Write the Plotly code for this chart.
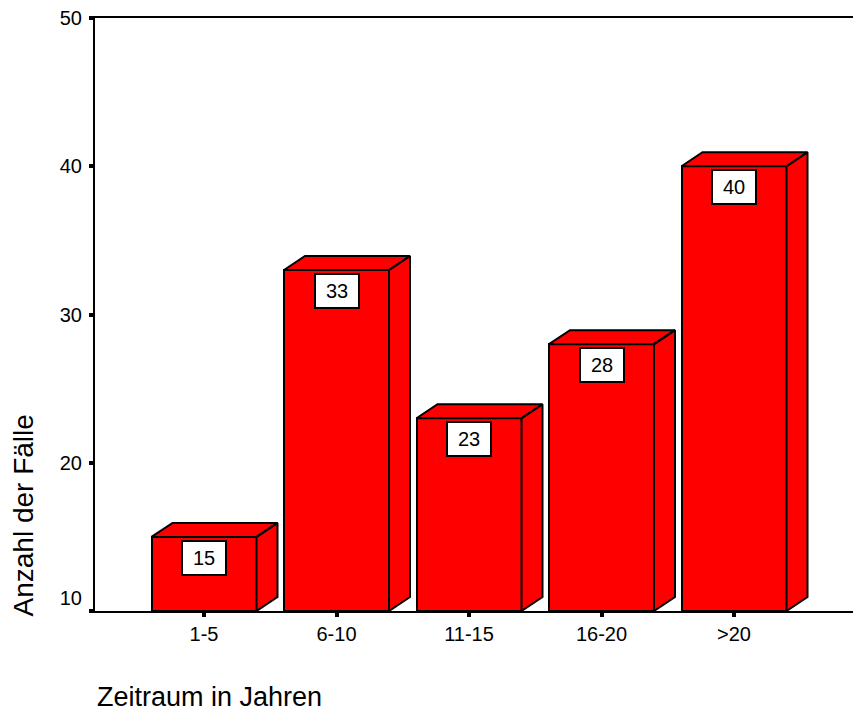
import plotly.graph_objects as go

# Anzahl der Fälle je Zeitraum
kategorien = ["1-5", "6-10", "11-15", "16-20", ">20"]
faelle = [15, 33, 23, 28, 40]
y_ticks = [10, 20, 30, 40, 50]

FONT = "Liberation Sans, Arial, sans-serif"
RED = "#ff0000"
Y_BASE = 10

W, H = 853, 711
M_L, M_R, M_T, M_B = 95, 0, 18, 100
X_RANGE = [-0.8226, 4.8981]
Y_RANGE = [10, 50]

plot_w = W - M_L - M_R
plot_h = H - M_T - M_B
px_x = (X_RANGE[1] - X_RANGE[0]) / plot_w   # data units per pixel (x)
px_y = (Y_RANGE[1] - Y_RANGE[0]) / plot_h   # data units per pixel (y)

bar_w = 105 * px_x
dx = 21 * px_x   # 3D depth offset
dy = 14 * px_y

idx = list(range(len(kategorien)))

fig = go.Figure()

# top and side faces of the 3D boxes
poly_x, poly_y = [], []
for i, v in zip(idx, faelle):
    x0, x1 = i - bar_w / 2, i + bar_w / 2
    # top face
    poly_x += [x0, x1, x1 + dx, x0 + dx, x0, None]
    poly_y += [v, v, v + dy, v + dy, v, None]
    # right side face
    poly_x += [x1, x1 + dx, x1 + dx, x1, x1, None]
    poly_y += [Y_BASE, Y_BASE + dy, v + dy, v, Y_BASE, None]

fig.add_trace(go.Scatter(
    x=poly_x, y=poly_y, mode="lines", fill="toself",
    fillcolor=RED, line=dict(color="black", width=2),
    hoverinfo="skip", showlegend=False,
))

# front faces
fig.add_trace(go.Bar(
    x=idx, y=[v - Y_BASE for v in faelle], base=Y_BASE, width=bar_w,
    marker=dict(color=RED, line=dict(color="black", width=2)),
    showlegend=False, hoverinfo="skip",
))

# value labels in white boxes
for i, v in zip(idx, faelle):
    fig.add_annotation(
        x=i, y=v, xref="x", yref="y", yanchor="top", yshift=-3,
        text=str(v), showarrow=False,
        font=dict(family=FONT, size=20, color="black"),
        bgcolor="white", bordercolor="black", borderwidth=2,
        borderpad=1, width=40, height=30,
    )

# axis titles
fig.add_annotation(
    text="Zeitraum in Jahren", xref="paper", yref="paper",
    x=(95 - M_L) / plot_w, xanchor="left",
    y=-(697 - (H - M_B)) / plot_h, yanchor="middle",
    showarrow=False, font=dict(family=FONT, size=27, color="black"),
)
fig.add_annotation(
    text="Anzahl der Fälle", xref="paper", yref="paper",
    x=-(M_L - 22.5) / plot_w, xanchor="center",
    y=((H - M_B) - 516) / plot_h, yanchor="middle", textangle=-90,
    showarrow=False, font=dict(family=FONT, size=28, color="black"),
)

# lowest tick label is lifted above the axis corner by an empty second line
y_ticktext = [str(t) for t in y_ticks]
y_ticktext[0] = y_ticktext[0] + "<br> "

fig.update_layout(
    width=W, height=H,
    margin=dict(l=M_L, r=M_R, t=M_T, b=M_B, pad=0),
    paper_bgcolor="white", plot_bgcolor="white",
    bargap=0,
    font=dict(family=FONT, size=20, color="black"),
    xaxis=dict(
        range=X_RANGE, tickmode="array", tickvals=idx, ticktext=kategorien,
        showgrid=False, zeroline=False,
        showline=True, linecolor="black", linewidth=2, mirror=True,
        ticks="outside", ticklen=4, tickwidth=4, tickcolor="black",
        tickfont=dict(family=FONT, size=20, color="black"),
    ),
    yaxis=dict(
        range=Y_RANGE, tickmode="array", tickvals=y_ticks,
        ticktext=y_ticktext,
        showgrid=False, zeroline=False,
        showline=True, linecolor="black", linewidth=2,
        ticks="outside", ticklen=4, tickwidth=4, tickcolor="black",
        ticklabelstandoff=3,
        tickfont=dict(family=FONT, size=20, color="black"),
    ),
)

fig.write_html("out.html")
